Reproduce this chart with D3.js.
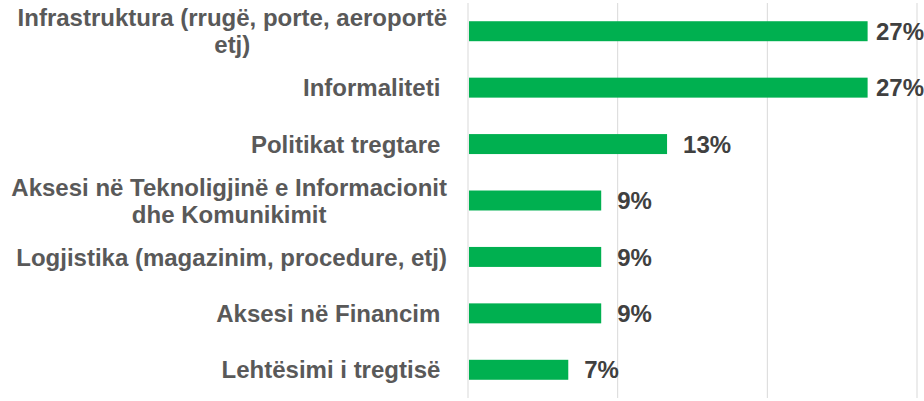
<!DOCTYPE html>
<html>
<head>
<meta charset="utf-8">
<script src="https://cdn.jsdelivr.net/npm/d3@7"></script>
<style>
  html, body { margin: 0; padding: 0; background: #fff; }
  svg { display: block; }
  text { font-family: "Liberation Sans", Arial, sans-serif; font-weight: bold; white-space: pre; }
</style>
</head>
<body>
<svg id="chart" width="924" height="401"></svg>
<script>
// Data
const categories = [
  "Infrastruktura (rrugë, porte, aeroportë\netj)",
  "Informaliteti ",
  "Politikat tregtare ",
  "Aksesi në Teknoligjinë e Informacionit\ndhe Komunikimit",
  "Logjistika (magazinim, procedure, etj)",
  "Aksesi në Financim ",
  "Lehtësimi i tregtisë "
];
const values = [0.267, 0.267, 0.133, 0.089, 0.089, 0.089, 0.067];
const xTicks = [0, 0.1, 0.2, 0.3];

(function () {
const W = 924, H = 401;
const mLeft = 468, mRight = 917, mTop = 3, mBottom = 398;
const fontSize = 24, lineH = 27, capHalf = 0.358 * fontSize;

const svg = d3.select("#chart");
const x = d3.scaleLinear().domain([0, 0.3]).range([mLeft, mRight]);
const y = d3.scaleBand().domain(categories).range([mTop, mBottom])
  .paddingInner(0.646).paddingOuter(0.323);
const fmt = d3.format(".0%");

// gridlines
svg.append("g").selectAll("line").data(xTicks).join("line")
  .attr("x1", d => x(d)).attr("x2", d => x(d))
  .attr("y1", mTop).attr("y2", mBottom)
  .attr("stroke", "#d9d9d9").attr("stroke-width", 1);

// bars
svg.append("g").selectAll("rect").data(values).join("rect")
  .attr("x", x(0) + 1)
  .attr("y", (d, i) => y(categories[i]))
  .attr("width", d => x(d) - x(0) - 1)
  .attr("height", y.bandwidth())
  .attr("fill", "#00B050");

// category labels
const labelRight = mLeft - 21;
categories.forEach((c, i) => {
  const lines = c.split("\n");
  const cy = y(c) + y.bandwidth() / 2;
  const g = svg.append("g");
  const texts = lines.map((ln, k) => g.append("text")
    .attr("font-size", fontSize)
    .attr("fill", "#595959")
    .attr("y", cy - (lines.length - 1) * lineH / 2 + k * lineH + capHalf)
    .text(ln));
  if (lines.length === 1) {
    texts[0].attr("x", labelRight).attr("text-anchor", "end");
  } else {
    const maxW = d3.max(texts, t => t.node().getComputedTextLength());
    texts.forEach(t => t.attr("x", labelRight - maxW / 2).attr("text-anchor", "middle"));
  }
});

// value labels
svg.append("g").selectAll("text").data(values).join("text")
  .attr("font-size", fontSize)
  .attr("fill", "#404040")
  .attr("y", (d, i) => y(categories[i]) + y.bandwidth() / 2 + capHalf)
  .text(d => fmt(d))
  .attr("x", function (d) {
    const w = this.getComputedTextLength();
    return Math.min(x(d) + 16, W - w);
  });
})();
</script>
</body>
</html>
